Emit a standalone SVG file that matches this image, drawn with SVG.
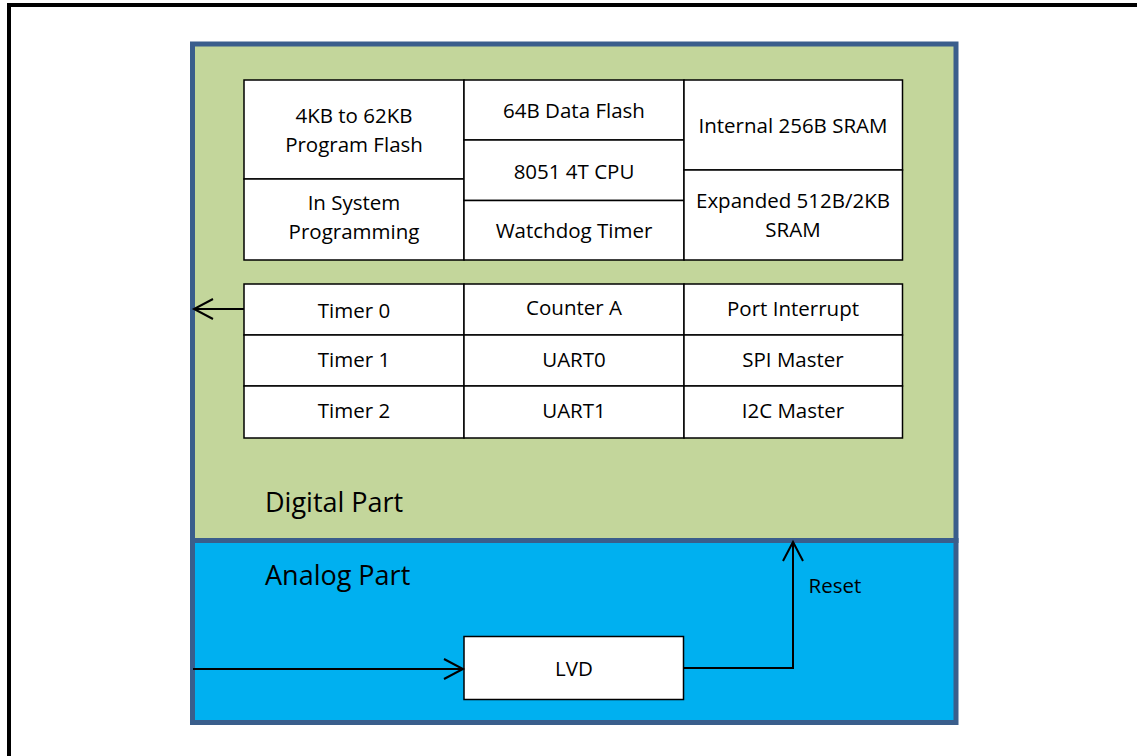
<svg xmlns="http://www.w3.org/2000/svg" width="1137" height="756" viewBox="0 0 1137 756">
<defs>
<style>
.cell{fill:#ffffff;stroke:#000000;stroke-width:1.5}
.t{font-family:"Open Sans","Noto Sans","Liberation Sans",sans-serif;font-size:20.5px;fill:#000000;text-anchor:middle}
.big{font-family:"Open Sans","Noto Sans","Liberation Sans",sans-serif;font-size:27px;fill:#000000}
.conn{fill:none;stroke:#000000;stroke-width:2}
</style>
<marker id="arr" viewBox="0 0 24 24" refX="21" refY="12" markerWidth="24" markerHeight="24" markerUnits="userSpaceOnUse" orient="auto">
<path d="M2,2 L21,12 L2,22" fill="none" stroke="#000000" stroke-width="2"/>
</marker>
</defs>
<rect x="0" y="0" width="1137" height="756" fill="#ffffff"/>
<rect id="frame" x="9" y="5" width="1140" height="760" fill="none" stroke="#000000" stroke-width="4"/>
<g id="digital">
<rect x="192.5" y="44" width="763.5" height="496.5" fill="#C3D69B" stroke="#3A5E8C" stroke-width="5"/>
<text class="big" x="265" y="512">Digital Part</text>
</g>
<g id="analog">
<rect x="192.5" y="540.5" width="763.5" height="182" fill="#00B0F0" stroke="#3A5E8C" stroke-width="5"/>
<text class="big" x="265" y="585">Analog Part</text>
</g>
<g id="program-flash">
<rect class="cell" x="244" y="80" width="220" height="99"/>
<text class="t" x="354" y="123">4KB to 62KB</text>
<text class="t" x="354" y="152">Program Flash</text>
</g>
<g id="isp">
<rect class="cell" x="244" y="179" width="220" height="81"/>
<text class="t" x="354" y="210">In System</text>
<text class="t" x="354" y="239">Programming</text>
</g>
<g id="data-flash">
<rect class="cell" x="464" y="80" width="220" height="60"/>
<text class="t" x="574" y="118">64B Data Flash</text>
</g>
<g id="cpu">
<rect class="cell" x="464" y="140" width="220" height="60.5"/>
<text class="t" x="574" y="179">8051 4T CPU</text>
</g>
<g id="watchdog">
<rect class="cell" x="464" y="200.5" width="220" height="59.5"/>
<text class="t" x="574" y="238">Watchdog Timer</text>
</g>
<g id="internal-sram">
<rect class="cell" x="684" y="80" width="218.5" height="90"/>
<text class="t" x="793" y="133">Internal 256B SRAM</text>
</g>
<g id="expanded-sram">
<rect class="cell" x="684" y="170" width="218.5" height="90"/>
<text class="t" x="793" y="208">Expanded 512B/2KB</text>
<text class="t" x="793" y="237">SRAM</text>
</g>
<g id="timer0">
<rect class="cell" x="244" y="284" width="220" height="51"/>
<text class="t" x="354" y="318">Timer 0</text>
</g>
<g id="timer1">
<rect class="cell" x="244" y="335" width="220" height="51"/>
<text class="t" x="354" y="367">Timer 1</text>
</g>
<g id="timer2">
<rect class="cell" x="244" y="386" width="220" height="52"/>
<text class="t" x="354" y="418">Timer 2</text>
</g>
<g id="counter-a">
<rect class="cell" x="464" y="284" width="220" height="51"/>
<text class="t" x="574" y="315">Counter A</text>
</g>
<g id="uart0">
<rect class="cell" x="464" y="335" width="220" height="51"/>
<text class="t" x="574" y="367">UART0</text>
</g>
<g id="uart1">
<rect class="cell" x="464" y="386" width="220" height="52"/>
<text class="t" x="574" y="418">UART1</text>
</g>
<g id="port-interrupt">
<rect class="cell" x="684" y="284" width="218.5" height="51"/>
<text class="t" x="793" y="316">Port Interrupt</text>
</g>
<g id="spi">
<rect class="cell" x="684" y="335" width="218.5" height="51"/>
<text class="t" x="793" y="367">SPI Master</text>
</g>
<g id="i2c">
<rect class="cell" x="684" y="386" width="218.5" height="52"/>
<text class="t" x="793" y="418">I2C Master</text>
</g>
<g id="lvd">
<rect class="cell" x="464" y="636.5" width="219.5" height="63"/>
<text class="t" x="574" y="676">LVD</text>
</g>
<g id="connectors">
<line class="conn" x1="244" y1="309" x2="194" y2="309" marker-end="url(#arr)"/>
<line class="conn" x1="193" y1="669" x2="463" y2="669" marker-end="url(#arr)"/>
<polyline class="conn" points="684,668 793,668 793,542" marker-end="url(#arr)"/>
<text class="t" x="835" y="593">Reset</text>
</g>
</svg>
